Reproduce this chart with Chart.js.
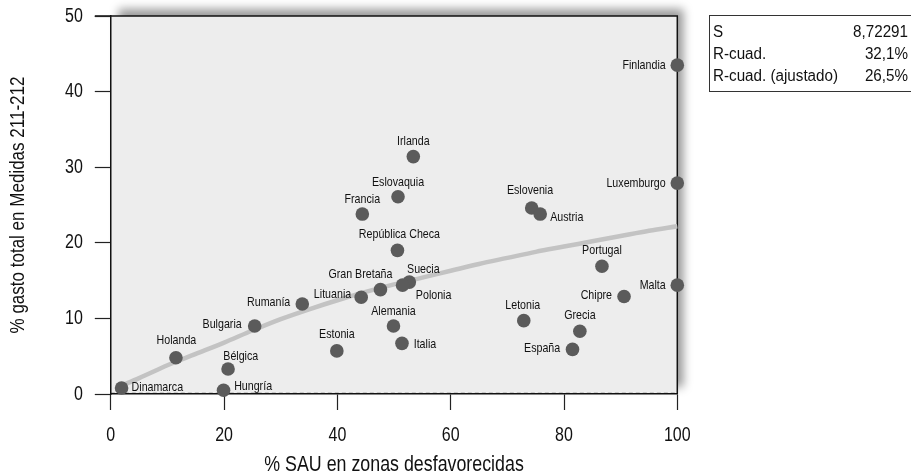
<!DOCTYPE html>
<html lang="es">
<head>
<meta charset="utf-8">
<title>Gasto en Medidas 211-212 y SAU en zonas desfavorecidas</title>
<script src="https://cdn.jsdelivr.net/npm/chart.js@4.4.1/dist/chart.umd.min.js"></script>
<style>
  html, body { margin: 0; padding: 0; background: #ffffff; }
  #wrap { position: relative; width: 911px; height: 473px; }
</style>
</head>
<body>
<div id="wrap"><canvas id="grafico" width="911" height="473"></canvas></div>
<script>
// Estados miembros
const paises = [
  'Dinamarca', 'Holanda', 'Bélgica', 'Hungría', 'Bulgaria', 'Rumanía', 'Estonia',
  'Lituania', 'Gran Bretaña', 'Francia', 'República Checa', 'Alemania', 'Italia',
  'Eslovaquia', 'Irlanda', 'Suecia', 'Polonia', 'Eslovenia', 'Austria', 'Portugal',
  'Malta', 'Chipre', 'Letonia', 'Grecia', 'España', 'Finlandia', 'Luxemburgo'
];
// % SAU en zonas desfavorecidas
const sauDesfavorecida = [
  1.9, 11.5, 20.7, 19.9, 25.4, 33.8, 39.9,
  44.2, 47.6, 44.4, 50.6, 49.9, 51.4,
  50.7, 53.4, 52.7, 51.5, 74.3, 75.8, 86.7,
  100, 90.6, 72.9, 82.8, 81.5, 100, 100
];
// % gasto total en Medidas 211-212
const gastoMedidas = [
  0.8, 4.8, 3.3, 0.5, 9.0, 11.9, 5.7,
  12.8, 13.8, 23.8, 19.0, 9.0, 6.7,
  26.1, 31.4, 14.8, 14.4, 24.6, 23.8, 16.9,
  14.4, 12.9, 9.7, 8.3, 5.9, 43.5, 27.9
];
// Curva de ajuste
const ajusteX = [1.9, 5, 10, 15, 20, 25, 30, 35, 40, 45, 50, 55, 60, 65, 70, 75, 80, 85, 90, 95, 100];
const ajusteY = [1.1, 2.1, 3.8, 5.3, 6.8, 8.4, 9.9, 11.2, 12.4, 13.5, 14.5, 15.4, 16.3, 17.2, 18.0, 18.8, 19.5, 20.2, 20.9, 21.6, 22.2];
// Marcas de los ejes
const ticksX = [0, 20, 40, 60, 80, 100];
const ticksY = [0, 10, 20, 30, 40, 50];
// Resumen del modelo
const resumenEtiquetas = ['S', 'R-cuad.', 'R-cuad. (ajustado)'];
const resumenValores = ['8,72291', '32,1%', '26,5%'];

// Colocación de cada etiqueta respecto a su punto: [lado, dx, dy]
const colocacion = {
  'Dinamarca': ['right', 10, -1], 'Holanda': ['top', 0.5, -17], 'Bélgica': ['top', 12.7, -13],
  'Hungría': ['right', 10.6, -4], 'Bulgaria': ['left', -13, -2], 'Rumanía': ['left', -12, -2],
  'Estonia': ['top', 0, -16], 'Lituania': ['left', -10, -3], 'Gran Bretaña': ['top', -20, -15],
  'Francia': ['top', 0, -15], 'República Checa': ['top', 2, -16], 'Alemania': ['top', 0, -15],
  'Italia': ['right', 11.7, 1], 'Eslovaquia': ['top', 0, -14], 'Irlanda': ['top', 0, -15],
  'Suecia': ['top', 14, -13], 'Polonia': ['right', 13.3, 10.3], 'Eslovenia': ['top', -1.7, -17.6],
  'Austria': ['right', 10, 3.3], 'Portugal': ['top', 0, -16], 'Malta': ['left', -11.6, 0],
  'Chipre': ['left', -12, -0.7], 'Letonia': ['top', -1, -15], 'Grecia': ['top', 0, -15.7],
  'España': ['left', -12.3, -0.6], 'Finlandia': ['left', -11.6, 0], 'Luxemburgo': ['left', -11.6, 0]
};

const FUENTE = '"Liberation Sans", Arial, Helvetica, sans-serif';
const TINTA = '#111111';
// Estrechamiento horizontal del texto según el tamaño de letra (tipografía condensada)
const estrechamiento = { 20: 0.8, 22: 0.81, 21: 0.81, 13: 0.82, 16: 0.95 };

const lienzo = document.getElementById('grafico');
const ctx2d = lienzo.getContext('2d');
(function condensarTexto(c) {
  const fillOrig = c.fillText.bind(c);
  const medirOrig = c.measureText.bind(c);
  const factor = () => {
    const m = /([\d.]+)px/.exec(c.font);
    return m && estrechamiento[parseFloat(m[1])] ? estrechamiento[parseFloat(m[1])] : 1;
  };
  c.fillText = function (texto, x, y, maxW) {
    const s = factor();
    c.save();
    c.translate(x, y);
    c.scale(s, 1);
    if (maxW !== undefined) fillOrig(texto, 0, 0, maxW / s); else fillOrig(texto, 0, 0);
    c.restore();
  };
  c.measureText = function (texto) {
    const m = medirOrig(texto);
    const s = factor();
    return {
      width: m.width * s,
      actualBoundingBoxLeft: m.actualBoundingBoxLeft * s,
      actualBoundingBoxRight: m.actualBoundingBoxRight * s,
      actualBoundingBoxAscent: m.actualBoundingBoxAscent,
      actualBoundingBoxDescent: m.actualBoundingBoxDescent,
      fontBoundingBoxAscent: m.fontBoundingBoxAscent,
      fontBoundingBoxDescent: m.fontBoundingBoxDescent
    };
  };
})(ctx2d);

const puntos = paises.map((p, i) => ({ x: sauDesfavorecida[i], y: gastoMedidas[i] }));
const curva = ajusteX.map((x, i) => ({ x: x, y: ajusteY[i] }));

// Fondo gris con sombra y marco superior/derecho del área de trazado
const fondoArea = {
  id: 'fondoArea',
  beforeDraw(chart) {
    const { ctx, chartArea: a } = chart;
    ctx.save();
    ctx.shadowColor = 'rgba(0,0,0,0.4)';
    ctx.shadowBlur = 9;
    ctx.shadowOffsetX = 7;
    ctx.shadowOffsetY = -7;
    ctx.fillStyle = '#ededed';
    ctx.fillRect(a.left, a.top, a.right - a.left, a.bottom - a.top);
    ctx.restore();
    ctx.save();
    ctx.fillStyle = '#ededed';
    ctx.fillRect(a.left, a.top, a.right - a.left, a.bottom - a.top);
    // línea discontinua junto al eje inferior
    ctx.strokeStyle = '#c8c8c8';
    ctx.lineWidth = 1;
    ctx.setLineDash([4, 3]);
    ctx.beginPath();
    ctx.moveTo(a.left, a.bottom - 1.5);
    ctx.lineTo(a.right, a.bottom - 1.5);
    ctx.stroke();
    ctx.setLineDash([]);
    ctx.strokeStyle = '#111111';
    ctx.lineWidth = 1.5;
    ctx.beginPath();
    ctx.moveTo(a.left - 16, a.top);
    ctx.lineTo(a.right, a.top);
    ctx.lineTo(a.right, a.bottom);
    ctx.stroke();
    ctx.restore();
  }
};

// Nombres de los países junto a cada punto
const etiquetasPaises = {
  id: 'etiquetasPaises',
  afterDatasetsDraw(chart) {
    const { ctx } = chart;
    const meta = chart.getDatasetMeta(1);
    ctx.save();
    ctx.font = '13px ' + FUENTE;
    ctx.fillStyle = TINTA;
    ctx.textBaseline = 'middle';
    meta.data.forEach((el, i) => {
      const nombre = paises[i];
      const [lado, dx, dy] = colocacion[nombre];
      ctx.textAlign = lado === 'left' ? 'right' : (lado === 'right' ? 'left' : 'center');
      ctx.fillText(nombre, el.x + dx, el.y + dy);
    });
    ctx.restore();
  }
};

// Cuadro con el resumen del modelo
const cuadroResumen = {
  id: 'cuadroResumen',
  afterDraw(chart) {
    const { ctx } = chart;
    ctx.save();
    ctx.strokeStyle = '#333333';
    ctx.lineWidth = 1;
    ctx.strokeRect(709.5, 15.5, 210, 76);
    ctx.font = '16px ' + FUENTE;
    ctx.fillStyle = TINTA;
    ctx.textBaseline = 'middle';
    const filas = [32.5, 55, 77];
    resumenEtiquetas.forEach((t, i) => {
      ctx.textAlign = 'left';
      ctx.fillText(t, 713, filas[i]);
      ctx.textAlign = 'right';
      ctx.fillText(resumenValores[i], 908, filas[i]);
    });
    ctx.restore();
  }
};

new Chart(ctx2d, {
  type: 'scatter',
  data: {
    datasets: [
      {
        type: 'line',
        data: curva,
        showLine: true,
        borderColor: '#c3c3c3',
        borderWidth: 4.5,
        pointRadius: 0,
        tension: 0.4,
        cubicInterpolationMode: 'monotone',
        fill: false,
        order: 2,
        clip: false
      },
      {
        data: puntos,
        backgroundColor: '#5b5b5b',
        borderColor: '#5b5b5b',
        borderWidth: 0,
        pointRadius: 6.8,
        order: 1,
        clip: false
      }
    ]
  },
  options: {
    responsive: false,
    animation: false,
    events: [],
    layout: { padding: { top: 16, right: 233.7, bottom: 0, left: 0 } },
    plugins: { legend: { display: false }, tooltip: { enabled: false } },
    scales: {
      x: {
        type: 'linear',
        min: 0, max: 100,
        afterBuildTicks(scale) { scale.ticks = ticksX.map(v => ({ value: v })); },
        afterFit(scale) { scale.height = 79; },
        grid: { display: true, drawOnChartArea: false, drawTicks: true, tickLength: 16, tickColor: '#222222', tickWidth: 1.2 },
        border: { display: true, color: '#111111', width: 1.5 },
        ticks: { color: TINTA, padding: 13, font: { family: FUENTE, size: 20 } },
        title: {
          display: true, text: '% SAU en zonas desfavorecidas', color: TINTA,
          font: { family: FUENTE, size: 22, lineHeight: 0.7 }, padding: { top: 0, bottom: 0 }
        }
      },
      y: {
        type: 'linear',
        min: 0, max: 50,
        afterBuildTicks(scale) { scale.ticks = ticksY.map(v => ({ value: v })); },
        afterFit(scale) { scale.width = 110.8; },
        grid: { display: true, drawOnChartArea: false, drawTicks: true, tickLength: 16, tickColor: '#222222', tickWidth: 1.2 },
        border: { display: true, color: '#111111', width: 1.5 },
        ticks: { color: TINTA, padding: 12, font: { family: FUENTE, size: 20, lineHeight: 0.3 } },
        title: {
          display: true, text: '% gasto total en Medidas 211-212', color: TINTA,
          font: { family: FUENTE, size: 21, lineHeight: 1.2 }, padding: { top: 6, bottom: 0 }
        }
      }
    }
  },
  plugins: [fondoArea, etiquetasPaises, cuadroResumen]
});
</script>
</body>
</html>
